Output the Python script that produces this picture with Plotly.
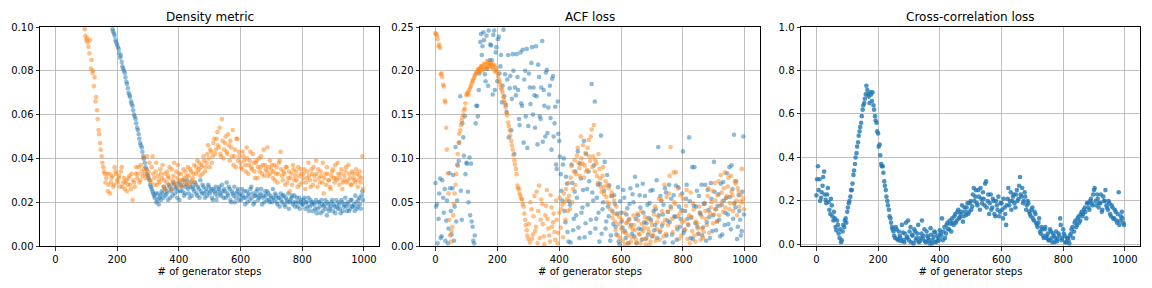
import plotly.graph_objects as go

N = None

# ---- series A: steps 0, 5, 10, ... ----
density_blue = [N]*37 + [
.099,.097,.094,.092,.090,.086,.084,.081,.079,.075,.072,.069,.066,.064,.060,.058,.054,.051,.047,.045,
.041,.038,.035,.032,.030,.027,.025,.023,.024,.021,.019,.023,.025,.022,.026,.024,.021,.027,.025,.023,
.028,.026,.022,.029,.025,.027,.030,.024,.028,.026,.022,.029,.027,.025,.028,.023,.026,.030,.024,.027,
.022,.025,.028,.024,.026,.021,.025,.027,.023,.026,.024,.028,.022,.025,.029,.023,.026,.020,.024,.027,
.022,.025,.021,.024,.026,.022,.019,.025,.023,.021,.027,.024,.020,.023,.026,.022,.024,.019,.023,.025,
.021,.024,.020,.022,.026,.021,.023,.019,.022,.024,.020,.023,.018,.021,.024,.020,.022,.019,.023,.020,
.018,.022,.020,.019,.021,.017,.020,.022,.018,.020,.016,.019,.021,.017,.020,.015,.019,.018,.021,.014,
.019,.017,.020,.016,.018,.021,.017,.019,.015,.020,.018,.022,.016,.019,.017,.021,.018,.016,.020,.018,
.022,.017,.025]

density_orange = [N]*19 + [
.099,.094,.093,.088,.081,.079,.073,.066,.062,.053,.047,.041,.036,.033,.031,.025,.033,.029,.032,.028,
.034,.030,.031,.027,.036,.029,.026,.030,.028,.032,.026,.021,.029,.033,.031,.036,.030,.034,.040,.033,
.035,.032,.038,.029,.041,.031,.034,.028,.030,.035,.031,.027,.033,.029,.032,.036,.026,.030,.038,.028,
.031,.033,.027,.030,.035,.029,.032,.036,.028,.034,.031,.037,.033,.039,.035,.032,.037,.041,.034,.038,
.046,.036,.043,.041,.049,.044,.052,.045,.042,.058,.040,.047,.043,.051,.039,.045,.053,.041,.036,.049,
.043,.038,.035,.041,.037,.045,.033,.039,.036,.042,.034,.038,.031,.040,.036,.033,.044,.037,.034,.032,
.039,.035,.031,.037,.033,.029,.038,.043,.032,.034,.028,.036,.031,.025,.033,.037,.030,.034,.027,.032,
.035,.029,.033,.026,.031,.038,.030,.035,.028,.032,.039,.027,.031,.034,.029,.024,.033,.036,.030,.027,
.032,.035,.029,.031,.038,.028,.033,.026,.030,.034,.029,.037,.031,.028,.033,.030,.035,.027,.032,.029,
.041]

acf_blue = [
.072,.048,.031,.077,.011,.055,.065,.029,.003,.083,.040,.066,.006,.113,.052,.097,.171,.030,.124,.148,
.095,.062,.101,.094,.022,.003,.140,.160,.178,.233,.218,.244,.196,.240,.183,.212,.229,.173,.246,.221,
.188,.239,.205,.164,.247,.196,.153,.218,.180,.132,.219,.105,.172,.193,.145,.221,.160,.118,.200,.225,
.137,.181,.209,.150,.172,.228,.116,.193,.145,.234,.178,.125,.201,.158,.183,.110,.194,.140,.093,.165,
.120,.082,.052,.100,.027,.071,.005,.047,.093,.018,.062,.035,.108,.009,.077,.044,.120,.026,.065,.085,
.015,.185,.052,.165,.031,.070,.005,.126,.042,.063,.020,.081,.034,.006,.057,.025,.048,.013,.067,.002,
.038,.021,.055,.009,.043,.030,.066,.014,.050,.079,.003,.035,.058,.019,.071,.027,.008,.047,.032,.063,
.011,.040,.024,.075,.113,.016,.052,.036,.004,.061,.029,.070,.045,.013,.058,.033,.007,.067,.022,.041,
.108,.018,.054,.031,.124,.009,.090,.046,.026,.063,.014,.038,.070,.021,.049,.006,.064,.033,.072,.017,
.096,.042,.028,.059,.011,.047,.073,.024,.055,.036,.090,.019,.065,.127,.044,.008,.058,.030,.017,.125]

acf_orange = [
.243,.240,.228,.226,.197,.184,.166,.135,.083,.030,.005,.022,.048,.070,.093,.118,.132,.143,.150,.157,
.172,.176,.178,.183,.188,.192,.196,.199,.201,.203,.205,.202,.207,.204,.209,.206,.208,.203,.206,.201,
.198,.190,.184,.178,.170,.163,.152,.141,.132,.120,.110,.098,.088,.069,.065,.057,.053,.045,.030,.018,
.008,.004,.042,.013,.057,.022,.003,.069,.030,.048,.011,.035,.064,.020,.005,.044,.027,.016,.052,.003,
.038,.021,.047,.060,.030,.053,.072,.042,.091,.065,.098,.082,.112,.089,.125,.094,.078,.106,.087,.121,
.097,.133,.102,.085,.094,.072,.088,.067,.080,.059,.074,.050,.066,.042,.061,.037,.028,.045,.012,.033,
.020,.006,.038,.015,.027,.003,.022,.010,.035,.018,.004,.029,.013,.040,.008,.021,.002,.031,.016,.005,
.024,.011,.045,.019,.033,.007,.052,.026,.070,.014,.039,.060,.113,.031,.084,.048,.022,.066,.037,.012,
.054,.029,.046,.008,.035,.061,.017,.042,.005,.026,.014,.038,.020,.009,.048,.031,.057,.015,.044,.063,
.036,.052,.028,.074,.046,.061,.039,.084,.055,.068,.042,.080,.058,.048,.071,.035,.062,.051,.088,.054]

xcorr = [
.226,.360,.300,.215,.270,.335,.205,.230,.195,.140,.180,.110,.120,.065,.090,.030,.010,.060,.080,.120,
.150,.190,.220,.250,.320,.370,.420,.470,.520,.560,.620,.650,.690,.710,.680,.700,.660,.640,.590,.560,
.510,.460,.370,.360,.290,.250,.200,.160,.120,.080,.060,.030,.070,.020,.040,.015,.055,.010,.100,.035,
.020,.080,.045,.005,.060,.030,.090,.015,.050,.025,.070,.010,.040,.020,.075,.005,.035,.055,.015,.030,
.065,.040,.020,.080,.050,.100,.070,.095,.120,.090,.140,.110,.160,.125,.150,.105,.170,.135,.190,.150,
.200,.175,.260,.220,.190,.250,.160,.210,.240,.180,.290,.200,.140,.230,.170,.200,.130,.180,.220,.150,
.190,.120,.170,.090,.210,.180,.240,.200,.230,.170,.250,.210,.310,.220,.190,.240,.160,.200,.150,.130,
.170,.110,.140,.090,.100,.060,.080,.040,.070,.030,.050,.020,.060,.010,.040,.030,.015,.050,.120,.020,
.070,.040,.010,.030,.005,.050,.080,.060,.110,.090,.130,.110,.150,.140,.170,.120,.190,.160,.210,.180,
.250,.200,.230,.170,.190,.150,.220,.200,.180,.160,.190,.130,.170,.120,.150,.100,.240,.110,.150,.100]

# ---- series B: steps 2, 7, 12, ... ----
density_blue_b = [N]*37 + [
.098,.096,.093,.091,.088,.087,.082,.080,.077,.074,.070,.068,.065,.062,.059,.056,.053,.049,.046,.043,
.040,.036,.033,.031,.028,.026,.024,.022,.020,.024,.022,.021,.024,.027,.023,.025,.028,.022,.026,.029,
.024,.027,.025,.021,.028,.025,.023,.027,.030,.024,.027,.023,.026,.029,.024,.027,.022,.025,.028,.024,
.026,.023,.027,.025,.022,.026,.024,.021,.025,.027,.023,.025,.026,.022,.024,.027,.021,.025,.023,.020,
.024,.026,.023,.021,.023,.025,.022,.020,.024,.026,.022,.019,.023,.025,.021,.023,.026,.022,.020,.023,
.025,.021,.023,.020,.022,.024,.020,.022,.018,.021,.023,.019,.022,.020,.017,.021,.023,.020,.018,.022,
.020,.017,.021,.019,.022,.020,.018,.016,.021,.019,.020,.017,.015,.020,.018,.021,.016,.019,.017,.020,
.016,.018,.021,.019,.015,.018,.020,.017,.021,.016,.019,.018,.020,.016,.021,.018,.019,.023,.017,.021,
.019,.023,.021]

density_orange_b = [N]*19 + [
.096,.095,.091,.094,.085,.080,.077,.068,.058,.051,.044,.038,.034,.029,.033,.028,.024,.031,.027,.036,
.033,.029,.032,.034,.027,.031,.029,.025,.031,.028,.033,.030,.027,.036,.033,.029,.037,.032,.035,.031,
.041,.034,.030,.036,.033,.028,.038,.032,.029,.033,.037,.030,.026,.034,.031,.028,.035,.032,.029,.034,
.037,.030,.033,.028,.031,.034,.029,.032,.035,.030,.033,.029,.036,.034,.038,.036,.033,.039,.036,.042,
.040,.044,.038,.047,.042,.049,.046,.054,.041,.048,.044,.050,.042,.046,.048,.041,.037,.044,.049,.039,
.041,.036,.043,.039,.034,.040,.037,.043,.035,.038,.031,.039,.036,.034,.041,.037,.032,.035,.045,.036,
.033,.037,.034,.030,.036,.033,.039,.035,.030,.033,.036,.029,.034,.031,.028,.035,.032,.030,.036,.028,
.033,.031,.035,.029,.034,.032,.027,.033,.036,.030,.033,.035,.029,.032,.038,.031,.028,.033,.030,.026,
.034,.031,.037,.030,.033,.031,.035,.029,.032,.036,.030,.033,.028,.034,.031,.029,.033,.030,.034,.031,
.026]

acf_blue_b = [
.045,.003,.060,.009,.075,.038,.006,.052,.020,.066,.013,.081,.045,.028,.092,.118,.063,.140,.103,.082,
.094,.050,.035,.028,.006,.012,.160,.148,.197,.242,.228,.235,.188,.202,.246,.230,.212,.241,.178,.227,
.236,.197,.218,.183,.171,.161,.190,.124,.194,.168,.200,.181,.219,.178,.138,.163,.224,.190,.148,.112,
.197,.162,.227,.181,.135,.171,.207,.148,.181,.119,.160,.198,.129,.173,.146,.191,.125,.159,.088,.128,
.102,.063,.093,.040,.079,.016,.051,.004,.072,.031,.085,.055,.021,.094,.038,.064,.010,.105,.047,.074,
.030,.061,.092,.020,.055,.038,.071,.014,.050,.096,.028,.045,.069,.012,.040,.058,.022,.037,.005,.051,
.028,.064,.017,.036,.003,.048,.024,.059,.011,.031,.069,.020,.044,.007,.038,.057,.026,.013,.049,.030,
.064,.018,.042,.009,.035,.057,.023,.047,.066,.012,.039,.027,.054,.004,.034,.069,.019,.045,.031,.060,
.015,.040,.070,.024,.051,.033,.008,.090,.045,.022,.057,.036,.012,.048,.070,.027,.041,.009,.054,.035,
.062,.018,.046,.030,.071,.013,.052,.038,.083,.025,.056,.092,.031,.049,.074,.022,.040,.012,.062,.036]

acf_orange_b = [
.242,.236,.230,.196,.193,.182,.164,.110,.060,.012,.017,.035,.060,.082,.105,.128,.138,.147,.155,.163,
.174,.173,.181,.186,.190,.195,.198,.202,.199,.205,.200,.208,.203,.211,.205,.209,.204,.207,.199,.203,
.194,.187,.180,.175,.166,.158,.149,.137,.126,.115,.104,.093,.082,.066,.060,.054,.048,.037,.024,.012,
.025,.050,.008,.034,.017,.062,.040,.009,.053,.025,.002,.046,.031,.012,.058,.022,.037,.007,.030,.015,
.055,.042,.010,.050,.065,.040,.057,.078,.050,.085,.070,.103,.095,.080,.100,.115,.092,.085,.112,.102,
.125,.090,.138,.098,.080,.105,.077,.062,.090,.068,.056,.070,.048,.057,.032,.052,.018,.036,.025,.009,
.030,.016,.002,.026,.012,.031,.005,.019,.024,.008,.037,.014,.003,.025,.017,.033,.009,.020,.001,.028,
.013,.036,.006,.027,.054,.018,.040,.011,.030,.056,.024,.080,.043,.016,.050,.084,.034,.008,.058,.027,
.040,.019,.064,.025,.003,.032,.049,.012,.028,.020,.045,.007,.033,.016,.040,.024,.066,.038,.050,.026,
.072,.042,.058,.035,.081,.051,.066,.044,.057,.078,.049,.062,.040,.074,.052,.066,.045,.058,.050,.042]

xcorr_b = [
.300,.250,.200,.240,.310,.230,.190,.260,.160,.210,.130,.150,.080,.110,.050,.070,.020,.090,.110,.100,
.170,.200,.250,.280,.340,.400,.450,.500,.540,.590,.640,.670,.730,.690,.650,.690,.700,.620,.570,.520,
.450,.410,.360,.330,.270,.220,.180,.130,.100,.070,.040,.080,.025,.060,.030,.090,.020,.050,.030,.110,
.060,.010,.040,.070,.020,.050,.010,.030,.110,.040,.015,.060,.030,.005,.045,.020,.060,.010,.040,.020,
.050,.120,.060,.030,.090,.070,.110,.060,.100,.130,.100,.150,.120,.140,.180,.130,.150,.170,.140,.190,
.160,.230,.200,.250,.180,.220,.260,.190,.210,.280,.170,.230,.190,.160,.210,.140,.200,.160,.130,.190,
.160,.210,.140,.180,.260,.200,.160,.220,.190,.230,.200,.270,.230,.260,.200,.220,.180,.190,.140,.160,
.120,.150,.100,.080,.120,.050,.070,.030,.080,.040,.020,.070,.030,.050,.010,.060,.025,.040,.090,.030,
.050,.010,.030,.020,.040,.070,.030,.100,.080,.120,.100,.140,.130,.160,.150,.190,.170,.200,.190,.230,
.260,.180,.210,.190,.230,.160,.200,.250,.170,.200,.140,.180,.120,.160,.110,.140,.090,.130,.120,.090]

titles = ["Density metric", "ACF loss", "Cross-correlation loss"]
xlabel = "# of generator steps"
BLUE, ORANGE = "#1f77b4", "#ff7f0e"

fig = go.Figure()

def xs(offset, ys):
    return list(range(offset, offset + 5 * len(ys), 5))

def add(xa, ya, pairs, color, op):
    xx, yy = [], []
    for off, ys in pairs:
        xx += xs(off, ys) + [None]
        yy += list(ys) + [None]
    fig.add_trace(go.Scatter(x=xx, y=yy, mode="markers", xaxis=xa, yaxis=ya, cliponaxis=True,
                             marker=dict(color=color, size=4.6, opacity=op, line=dict(width=0)),
                             showlegend=False, hoverinfo="skip"))

add("x", "y", [(0, density_blue), (2, density_blue_b)], BLUE, 0.5)
add("x", "y", [(0, density_orange), (2, density_orange_b)], ORANGE, 0.5)
add("x2", "y2", [(0, acf_blue), (2, acf_blue_b)], BLUE, 0.5)
add("x2", "y2", [(0, acf_orange), (2, acf_orange_b)], ORANGE, 0.5)
add("x3", "y3", [(0, xcorr), (2, xcorr_b)], BLUE, 0.8)

W, H = 1152, 288
xdoms = [(40/W, 379/W), (420/W, 760/W), (801/W, 1140/W)]
ydom = (1 - 246/H, 1 - 27/H)
yranges = [(0, 0.1), (0, 0.25), (-0.007, 1.0)]
ydt = [0.02, 0.05, 0.2]
yfmt = [".2f", ".2f", ".1f"]

axcommon = dict(showline=True, linecolor="black", linewidth=1, mirror=True, automargin=False,
                ticks="outside", ticklen=3.5, tickwidth=0.8, tickcolor="black",
                showgrid=True, gridcolor="#b0b0b0", gridwidth=0.8, zeroline=False,
                tickfont=dict(family="DejaVu Sans", size=10, color="black"))

layout = dict(width=W, height=H, margin=dict(l=0, r=0, t=0, b=0, autoexpand=False),
              plot_bgcolor="white", paper_bgcolor="white", annotations=[], hovermode=False)
for i in range(3):
    s = "" if i == 0 else str(i + 1)
    layout["xaxis" + s] = dict(domain=list(xdoms[i]), anchor="y" + s, range=[-49.95, 1048.95],
                               tickmode="array", tickvals=[0, 200, 400, 600, 800, 1000],
                               title=dict(text=xlabel, standoff=4,
                                          font=dict(family="DejaVu Sans", size=10, color="black")),
                               **axcommon)
    layout["yaxis" + s] = dict(domain=list(ydom), anchor="x" + s, range=list(yranges[i]),
                               dtick=ydt[i], tick0=0, tickformat=yfmt[i], **axcommon)
    layout["annotations"].append(dict(text=titles[i], xref="paper", yref="paper",
                                      x=(xdoms[i][0] + xdoms[i][1]) / 2, y=1 - 17/H,
                                      xanchor="center", yanchor="middle", showarrow=False,
                                      font=dict(family="DejaVu Sans", size=12, color="black")))
fig.update_layout(**layout)
fig.write_html("out.html", config={"displayModeBar": False, "staticPlot": True},
               post_script="document.body.style.margin='0';document.body.style.padding='0';"
                           "document.body.style.overflow='hidden';")
